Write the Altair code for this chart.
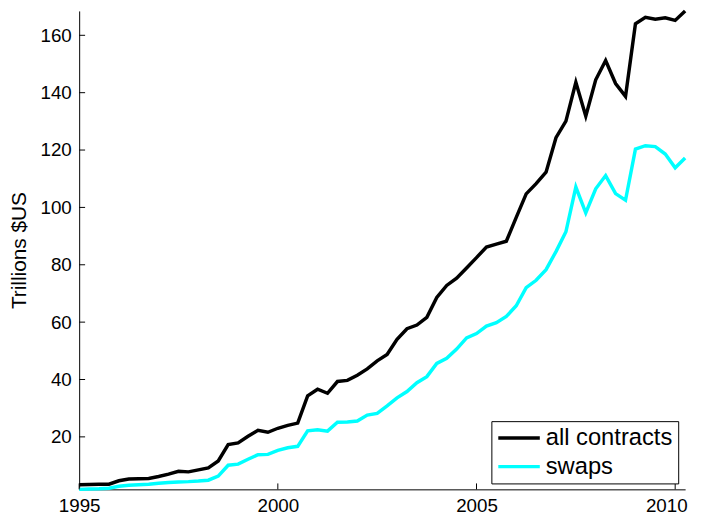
import altair as alt
import pandas as pd

# Quarterly observations, 1995 Q1 .. 2010 Q2
quarters = [1995 + 0.25 * i for i in range(62)]

all_contracts = [
    3.3, 3.4, 3.5, 3.5, 4.7, 5.3, 5.4, 5.5, 6.2, 7.0,
    8.0, 7.8, 8.5, 9.2, 11.6, 17.3, 17.9, 20.2, 22.3, 21.6,
    23.0, 24.0, 24.8, 34.3, 36.6, 35.2, 39.3, 39.7, 41.5, 43.7,
    46.5, 48.7, 54.0, 57.7, 59.0, 61.7, 68.6, 72.8, 75.3, 78.9,
    82.5, 86.2, 87.2, 88.2, 96.5, 104.7, 108.3, 112.3, 124.3, 130.1,
    143.6, 131.8, 144.5, 151.2, 143.2, 138.7, 164.0, 166.3, 165.6, 166.1,
    165.2, 168.5,
]

swaps = [
    1.7, 1.8, 1.9, 2.1, 2.8, 3.1, 3.3, 3.5, 3.8, 4.1,
    4.3, 4.4, 4.6, 4.9, 6.3, 10.1, 10.5, 12.2, 13.8, 13.9,
    15.3, 16.2, 16.7, 22.1, 22.5, 22.0, 25.1, 25.2, 25.5, 27.6,
    28.2, 30.8, 33.6, 35.8, 38.9, 41.0, 45.6, 47.4, 50.6, 54.5,
    56.0, 58.6, 59.8, 62.0, 65.7, 72.0, 74.6, 78.3, 84.6, 91.5,
    107.1, 98.1, 106.5, 111.1, 104.8, 102.5, 120.3, 121.5, 121.2, 118.6,
    113.8, 117.2,
]

series_names = ["all contracts", "swaps"]
series_colors = ["#000000", "#00FFFF"]
x_ticks = [1995, 2000, 2005, 2010]
y_ticks = [20, 40, 60, 80, 100, 120, 140, 160]
y_title = "Trillions $US"

df = pd.concat([
    pd.DataFrame({"year": quarters, "value": all_contracts, "series": series_names[0]}),
    pd.DataFrame({"year": quarters, "value": swaps, "series": series_names[1]}),
])

W, H = 613, 484
FONT = "Liberation Sans"

xscale = alt.Scale(domain=[quarters[0], quarters[-1]], nice=False, zero=False)
yscale = alt.Scale(domain=[min(swaps), max(all_contracts)], nice=False, zero=False)

xaxis = alt.Axis(values=x_ticks, format="d", title=None, labelFlush=False,
                 ticks=False, tickSize=0, grid=False, labelFontSize=19,
                 labelPadding=7, labelFont=FONT, labelColor="black",
                 domainColor="black", labelOverlap=False,
                 labelOffset={"condition": {"test": "datum.value == 2010", "value": -9},
                              "value": 0})
yaxis = alt.Axis(values=y_ticks, format="d", title=y_title,
                 ticks=False, tickSize=0, grid=False, labelFontSize=19,
                 labelPadding=8, labelFont=FONT, labelColor="black",
                 domainColor="black", titleFont=FONT, titleFontSize=21,
                 titleFontWeight="normal", titleColor="black",
                 titlePadding=11, labelOverlap=False)

lines = alt.Chart(df).mark_line(strokeWidth=3.5).encode(
    x=alt.X("year:Q", scale=xscale, axis=xaxis),
    y=alt.Y("value:Q", scale=yscale, axis=yaxis),
    color=alt.Color("series:N",
                    scale=alt.Scale(domain=series_names, range=series_colors),
                    legend=alt.Legend(title=None, orient="none", legendX=417, legendY=415,
                                      direction="vertical", fillColor="white",
                                      strokeColor="black", padding=5,
                                      symbolType="stroke", symbolSize=1764,
                                      symbolStrokeWidth=3.5, clipHeight=24,
                                      labelFontSize=24, labelFont=FONT,
                                      labelColor="black", labelOffset=4,
                                      rowPadding=5)),
)

ytick_layer = alt.Chart(pd.DataFrame({"value": y_ticks})).mark_rule(color="black", strokeWidth=1).encode(
    y=alt.Y("value:Q", scale=yscale, axis=yaxis),
    x=alt.value(0),
    x2=alt.value(6),
)

xtick_layer = alt.Chart(pd.DataFrame({"year": x_ticks})).mark_rule(color="black", strokeWidth=1).encode(
    x=alt.X("year:Q", scale=xscale, axis=xaxis),
    y=alt.value(H),
    y2=alt.value(H - 6),
)

chart = alt.layer(lines, ytick_layer, xtick_layer).properties(
    width=W,
    height=H,
    padding={"left": 72, "top": 0, "right": 10, "bottom": 25},
    autosize=alt.AutoSizeParams(type="none"),
).configure_view(stroke=None)

chart.save("out.html", embed_options={"renderer": "svg", "actions": False})
